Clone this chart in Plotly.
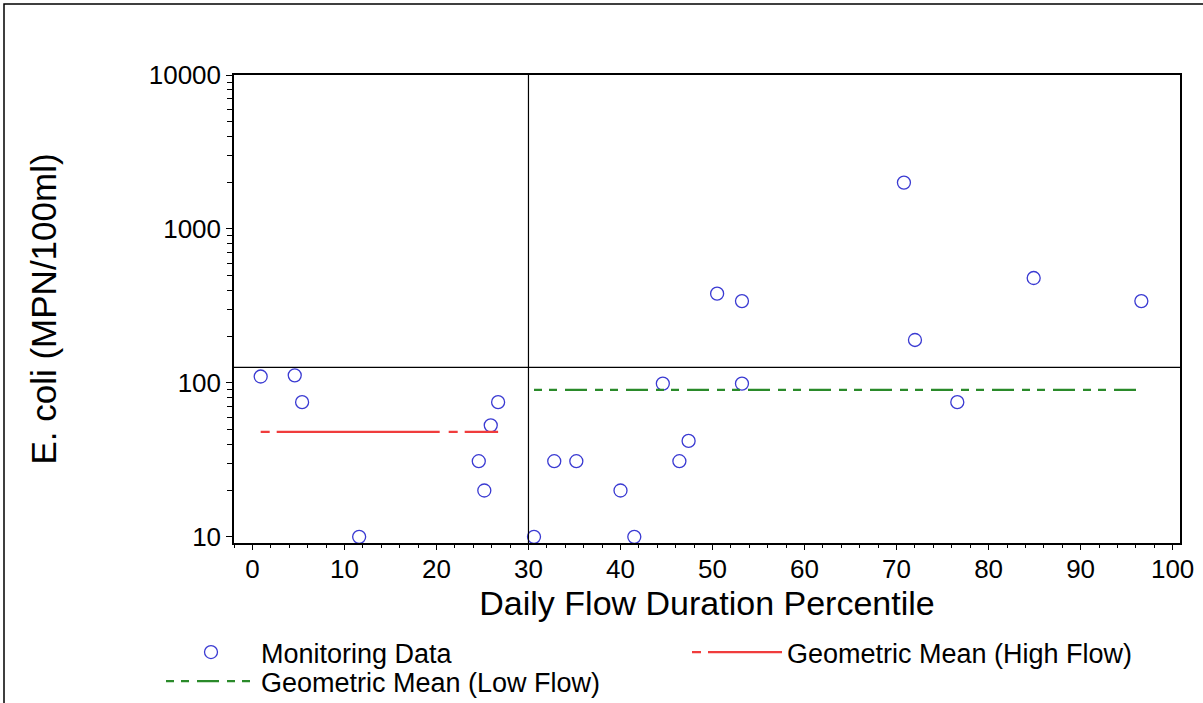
import plotly.graph_objects as go

# ---- data ----
flow_pct = [0.9, 4.6, 5.4, 11.6, 24.6, 25.2, 25.9, 26.7,
            30.6, 32.8, 35.2, 40.0, 41.5, 44.6, 46.4, 47.4, 50.5, 53.2, 53.2,
            70.8, 72.0, 76.6, 84.9, 96.6]
ecoli = [110, 112, 75, 10, 31, 20, 53, 75,
         10, 31, 31, 20, 10, 99, 31, 42, 380, 340, 99,
         2000, 190, 75, 480, 340]

high_flow_x = [0.9, 26.7]
high_flow_gm = [48, 48]
low_flow_x = [30.6, 96.6]
low_flow_gm = [90, 90]

criterion = 126
flow_break = 30

x_ticks = [0, 10, 20, 30, 40, 50, 60, 70, 80, 90, 100]
y_ticks = [10, 100, 1000, 10000]
y_ticktext = ["10", "100", "1000", "10000"]

X_RANGE = [-2, 100.8]
Y_RANGE_LOG = [0.96, 4.0]

FONT = "Liberation Sans, Arial, sans-serif"

L, R, T, B = 234, 23, 75, 160
W, H = 1203, 703
pw, ph = W - L - R, H - T - B


def px_x(px):
    return (px - L) / pw


def px_y(py):
    return (T + ph - py) / ph


fig = go.Figure()

fig.add_trace(go.Scatter(
    x=flow_pct, y=ecoli, mode="markers", name="Monitoring Data", legend="legend",
    marker=dict(symbol="circle-open", size=13, color="#3a3ad2", line=dict(width=1.3)),
))
fig.add_trace(go.Scatter(
    x=high_flow_x, y=high_flow_gm, mode="lines", name="Geometric Mean (High Flow)",
    legend="legend3",
    line=dict(color="#f03c3c", width=2.2, dash="9px,7px,163px,9px"),
))
fig.add_trace(go.Scatter(
    x=low_flow_x, y=low_flow_gm, mode="lines", name="Geometric Mean (Low Flow)",
    legend="legend2",
    line=dict(color="#2a8a2a", width=2.2, dash="8px,7px,8px,8px,22px,8px"),
))
# reference lines
fig.add_trace(go.Scatter(
    x=X_RANGE, y=[criterion, criterion], mode="lines", showlegend=False,
    line=dict(color="black", width=1.2), hoverinfo="skip",
))
fig.add_trace(go.Scatter(
    x=[flow_break, flow_break], y=[10 ** Y_RANGE_LOG[0], 10 ** Y_RANGE_LOG[1]],
    mode="lines", showlegend=False,
    line=dict(color="black", width=1.2), hoverinfo="skip",
))

legend_common = dict(
    orientation="h", xanchor="left", yanchor="top",
    font=dict(size=27, family=FONT),
    itemwidth=90, bgcolor="rgba(0,0,0,0)",
)

fig.update_layout(
    width=W, height=H,
    margin=dict(l=L, r=R, t=T, b=B, autoexpand=False),
    paper_bgcolor="white", plot_bgcolor="white",
    font=dict(family=FONT, color="black"),
    showlegend=True,
    legend=dict(x=px_x(161), y=px_y(628), **legend_common),
    legend3=dict(x=px_x(687), y=px_y(628), **legend_common),
    legend2=dict(x=px_x(161), y=px_y(657), **legend_common),
    shapes=[dict(
        type="rect", xref="paper", yref="paper",
        x0=px_x(4), x1=px_x(1215),
        y0=px_y(720), y1=px_y(4),
        line=dict(color="black", width=1.5), fillcolor="rgba(0,0,0,0)",
        layer="below",
    )],
)

fig.update_xaxes(
    range=X_RANGE, tickvals=x_ticks,
    showline=True, mirror=True, linecolor="black", linewidth=1.5,
    ticks="outside", ticklen=5, tickcolor="black", tickwidth=1.2,
    ticklabelstandoff=-3,
    minor=dict(ticks="outside", dtick=2, ticklen=3, tickcolor="black", tickwidth=1, showgrid=False),
    showgrid=False, zeroline=False,
    tickfont=dict(size=26, family=FONT),
    title=dict(text="Daily Flow Duration Percentile", font=dict(size=34, family=FONT), standoff=7),
)
fig.update_yaxes(
    type="log", range=Y_RANGE_LOG, tickvals=y_ticks, ticktext=y_ticktext,
    showline=True, mirror=True, linecolor="black", linewidth=1.5,
    ticks="outside", ticklen=6, tickcolor="black", tickwidth=1.2,
    minor=dict(ticks="outside", dtick="D1", ticklen=5, tickcolor="black", tickwidth=1, showgrid=False),
    showgrid=False, zeroline=False,
    tickfont=dict(size=26, family=FONT),
    title=dict(text="E. coli (MPN/100ml)", font=dict(size=35, family=FONT), standoff=81),
)

fig.write_html(
    "out.html",
    config={"displayModeBar": False},
    post_script="document.body.style.margin='0';document.body.style.overflow='hidden';",
)
